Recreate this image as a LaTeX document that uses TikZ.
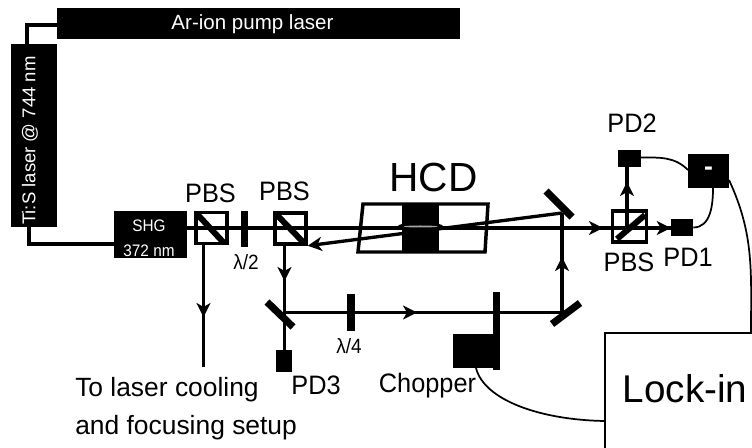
\documentclass[tikz,border=0pt]{standalone}
\usepackage{fontspec}
\setmainfont{Liberation Sans}
\usetikzlibrary{positioning,arrows.meta}
\def\px{0.75pt}
\tikzset{
	blackbox/.style={fill=black,draw=none,inner sep=0pt,text=white},
	cube/.style={draw=black,line width=2.6pt,inner sep=0pt,minimum height=31*\px},
	beam/.style={line width=2.5pt},
	wire/.style={line width=1.3pt},
	plate/.style={line width=5.4pt},
	split/.style={line width=4.5pt},
	small/.style={inner sep=0pt,font=\fontsize{15.5}{18}\selectfont,xscale=0.92},
	big/.style={inner sep=0pt,font=\fontsize{20}{24}\selectfont,xscale=0.95},
	plain/.style={inner sep=0pt,font=\fontsize{19.8}{24}\selectfont,anchor=base west}
}
\begin{document}
\begin{tikzpicture}[x=0.75pt,y=-0.75pt,line join=miter,>={Stealth[length=10.5pt,width=10.5pt,inset=3pt]}]
	\useasboundingbox (0,0) rectangle (752,448);
	% lasers
	\node[blackbox,minimum width=403*\px,minimum height=31*\px] (pump) at (258.5,23.5) {};
	\node[blackbox,font=\fontsize{15.4}{18}\selectfont] (pumptext) at (252.5,24) {Ar-ion pump laser};
	\node[blackbox,minimum width=46*\px,minimum height=183*\px] (tis) at (34,135.5) {};
	\node[blackbox,rotate=90,font=\fontsize{13.9}{16}\selectfont] (tistext) at (30,140.5) {Ti:S laser @ 744 nm};
	\node[blackbox,minimum width=73*\px,minimum height=47*\px] (shg) at (150.5,234.5) {};
	\node[blackbox,align=center,font=\fontsize{12.5}{18.7}\selectfont] (shgtext) at (149,238.5) {\scalebox{0.92}[1]{SHG}\\\scalebox{0.92}[1]{372 nm}};
	\coordinate (a1) at (27,25);
	\coordinate (a2) at (29,244);
	\draw[beam] (pump.west|-a1)--(a1)--(a1|-tis.north);
	\draw[beam] (a2|-tis.south)--(a2)--(a2-|shg.west);
	% hollow cathode
	\coordinate (h1) at (363,204);
	\coordinate (h2) at (488,204);
	\coordinate (h3) at (485,252);
	\coordinate (h4) at (358,252);
	\node[blackbox,minimum width=37*\px,minimum height=49*\px] (hcdblock) at (420.5,228) {};
	\draw[line width=2.6pt] (h1)--(h2)--(h3)--(h4)--cycle;
	\fill (420.5,226.5) ellipse (23 and 4);
	% cubes
	\node[cube,minimum width=31*\px] (pbsa) at (211.5,228) {};
	\node[cube,minimum width=31*\px] (pbsb) at (290.5,228.5) {};
	\node[cube,minimum width=34*\px] (pbsc) at (629.5,226.5) {};
	% main beam
	\coordinate (m3) at (562,213);
	\coordinate (c1) at (603,228);
	\node[blackbox,minimum width=22*\px,minimum height=17*\px] (pda) at (682,227.5) {};
	\node[blackbox,minimum width=23*\px,minimum height=17*\px] (pdb) at (629.5,158.5) {};
	\draw[beam] (shg.east|-pbsa)--(pda.west|-pbsa);
	\draw[beam,->] (pbsb.east|-pbsa)--(c1);
	\draw[beam,->] (pbsc.east|-pbsa)--(pda.west|-pbsa);
	% beam back through the discharge
	\draw[beam,->] (m3)--(pbsb.south east);
	\fill[gray!70] (420.5,226.5) ellipse (17 and 1);
	% plates and splitters
	\draw[split] (197,214)--(224,243);
	\draw[split] (276,214)--(304,243);
	\draw[split] (617,239)--(645,215);
	\node[blackbox,minimum width=7*\px,minimum height=36*\px] (halfplate) at (244.5,229) {};
	\node[blackbox,minimum width=8*\px,minimum height=37*\px] (quarterplate) at (351,312.5) {};
	% downward beams
	\coordinate (d1) at (203.5,367);
	\coordinate (d2) at (203.5,317);
	\coordinate (m1) at (284.5,312.5);
	\coordinate (m2) at (562,312.5);
	\node[blackbox,minimum width=16*\px,minimum height=22*\px] (pdc) at (284,361) {};
	\draw[beam] (d2|-pbsa.south)--(d1);
	\draw[beam,->] (d2|-pbsa.south)--(d2);
	\draw[beam] (m1|-pbsb.south)--(m1)--(m1|-pdc.north);
	\draw[beam,->] (m1|-pbsb.south)--(284.5,281);
	\draw[beam] (m1)--(m2)--(m3);
	\draw[beam,->] (m1)--(417,312.5);
	\draw[beam,->] (m2)--(562,257);
	\draw[plate] (267,302)--(293,327);
	\draw[plate] (552,324)--(580,303);
	\draw[plate] (546,191)--(572,217);
	% detectors
	\coordinate (u1) at (627,228);
	\draw[beam] (u1)--(u1|-pdb.south);
	\draw[beam,->] (u1)--(627,182);
	\node[blackbox,minimum width=41*\px,minimum height=34*\px,font=\fontsize{20}{24}\selectfont\bfseries] (diff) at (708.5,171) {-};
	% chopper
	\node[blackbox,minimum width=47*\px,minimum height=34*\px] (chopper) at (476.5,351) {};
	\node[blackbox,minimum width=7*\px,minimum height=78*\px] (blade) at (496.5,331) {};
	% lock-in
	\node[draw=black,line width=1.3pt,minimum width=160*\px,minimum height=125*\px,inner sep=0pt] (lockin) at (685,395.5) {};
	\node[inner sep=0pt,font=\fontsize{29}{34}\selectfont] (lockintext) at (685,389) {Lock-in};
	\coordinate (l1) at (751,333);
	\coordinate (l2) at (605,421);
	\draw[wire] (641,157.5) to[out=0,in=135] (688,170);
	\draw[wire] (pda.east) to[out=0,in=-90] (713,188);
	\draw[wire] (729,180) to[out=-65,in=90] (l1);
	\draw[wire] (476,368) .. controls (484,400) and (540,420) .. (l2);
	% labels
	\node[big] (labela) at (210.5,193) {PBS};
	\node[big] (labelb) at (284.5,191.5) {PBS};
	\node[big] (labelc) at (629,262) {PBS};
	\node[big] (labeld) at (688,257) {PD1};
	\node[big] (labele) at (632,123.5) {PD2};
	\node[big] (labelf) at (316,385) {PD3};
	\node[big] (labelg) at (427.5,386) {Chopper};
	\node[inner sep=0pt,font=\fontsize{30.5}{36}\selectfont] (labelh) at (433.5,178) {HCD};
	\node[small] (labeli) at (246,262) {λ/2};
	\node[small] (labelj) at (349,346) {λ/4};
	\node[plain] (labelk) at (75,397) {To laser cooling};
	\node[plain] (labell) at (75,434) {and focusing setup};
\end{tikzpicture}
\end{document}
